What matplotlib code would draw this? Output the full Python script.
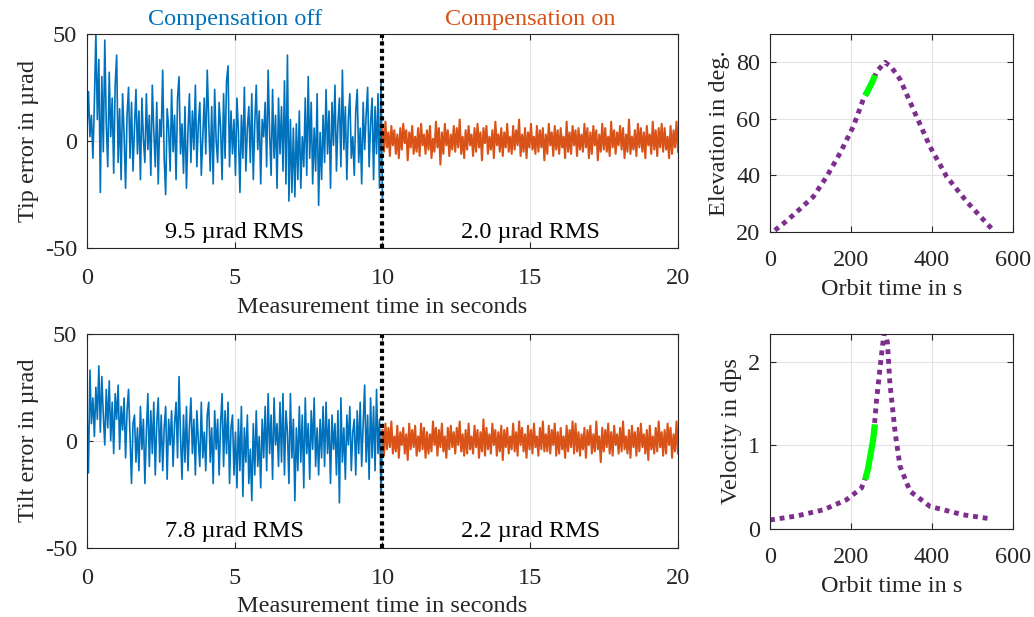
import numpy as np
import matplotlib
matplotlib.use('Agg')
import matplotlib.pyplot as plt

plt.rcParams['font.family'] = ['Liberation Serif', 'DejaVu Serif']
plt.rcParams['font.size'] = 17.5
plt.rcParams['axes.unicode_minus'] = False

tip_off = [5, 23, 2, 12, -8, 18, 50, 10, 38, -24,
           30, -5, 47, 8, -12, 32, 2, 20, -15, 26,
           40, -10, 15, -18, 22, 3, -22, 12, 25, -8,
           18, -14, 6, 24, -6, 14, -18, 20, 1, -10,
           22, -4, 12, -16, 26, 5, -12, 18, -20, 10,
           2, 33, -8, -25, 15, 6, -14, 24, -5, 12,
           -18, 20, 30, -6, 8, -15, 16, -22, 4, 22,
           -10, 14, -4, 26, -12, 8, 18, -16, 2, 20,
           -6, 33, 10, -14, 16, -20, 24, 0, -10, 18,
           6, -18, 22, -8, 28, 35, -12, 14, -6, 10,
           -16, 20, 4, -24, 12, -8, 25, -14, 6, 16,
           -10, 22, -18, 8, 26, -4, 14, -20, 10, 2,
           18, -12, 33, 4, -16, 24, -8, 12, -22, 20,
           -6, 16, -14, 28, -20, 40, -28, 10, -24, 6,
           -26, 8, -18, 14, -22, 2, -12, 20, -16, 30,
           -8, 18, -20, 6, -14, 22, -30, 4, -18, 12,
           -10, 24, -6, 14, -22, 18, -2, 26, -14, 8,
           20, -12, 33, -4, 16, -18, 10, 22, -8, 2,
           -16, 14, 24, -10, 6, -20, 18, -4, 12, 25,
           -12, 8, 20, -18, 16, -6, 22, -22, 28, -28]
tip_on = [6, -5, 9, -3, 4, -7, 7, -2, 5, -6,
          3, -8, 6, -4, 8, -1, 5, -9, 4, -3,
          7, -6, 2, -5, 6, -7, 8, -2, 3, -6,
          5, -4, 7, -8, 1, -5, 9, -3, 6, -11,
          4, -6, 8, -2, 5, -7, 3, -4, 7, -5,
          6, -3, 10, -6, 2, -8, 5, -4, 7, -2,
          3, -7, 6, -5, 8, -3, 4, -9, 6, -1,
          7, -6, 2, -4, 5, -8, 9, -2, 3, -5,
          6, -7, 4, -3, 8, -5, 2, -6, 7, -4,
          5, -2, 10, -7, 3, -5, 6, -8, 4, -3,
          8, -4, 2, -6, 7, -5, 5, -3, 6, -9,
          3, -6, 8, -2, 4, -7, 7, -4, 5, -6,
          6, -3, 2, -8, 9, -5, 4, -6, 7, -2,
          5, -7, 6, -4, 3, -5, 8, -3, 6, -8,
          4, -6, 7, -2, 5, -9, 3, -5, 8, -4,
          6, -5, 2, -7, 9, -3, 5, -6, 4, -2,
          7, -4, 6, -8, 3, -5, 10, -6, 2, -4,
          5, -7, 8, -3, 6, -5, 4, -8, 7, -2,
          3, -6, 9, -4, 5, -7, 6, -3, 8, -5,
          6, -4, 2, -8, 7, -6, 5, -3, 9, -5]
tilt_off = [15, -15, 33, 8, 20, 2, 25, 10, 35, 4,
            30, 12, -2, 24, 6, 28, 0, 18, -6, 22,
            10, 26, -4, 16, 5, 20, -8, 14, 24, 2,
            -20, 8, 12, -10, 6, -14, 16, -4, 10, -20,
            4, 22, -12, 14, -6, 18, -16, 8, 20, -10,
            12, -14, 6, 16, -18, 10, -2, 14, -12, 8,
            18, -8, 30, 2, -18, 12, -10, 16, -14, 6,
            20, -6, 10, -16, 14, 0, -12, 18, -8, 4,
            -14, 12, 18, -10, 6, -20, 14, -4, 10, -16,
            8, 22, -12, 14, -6, 18, -20, 6, 12, -16,
            4, -22, 10, -14, 16, -26, 6, -10, 12, -20,
            -4, -28, 8, -16, 14, -12, 2, -22, 10, -8,
            16, -14, 22, -6, 12, -18, 20, -2, 8, -12,
            18, -10, 22, -16, 14, 4, -20, 22, -8, 10,
            -28, 6, -14, 16, -10, 12, -22, 20, -6, 8,
            -18, 14, -4, 20, -12, 6, -16, 10, -8, 16,
            -12, 18, -6, 10, -20, 12, -4, 8, -16, 14,
            -29, 20, -10, 6, -18, 12, -2, 16, -14, 4,
            10, -16, 14, -6, 18, -12, 8, 26, -10, 12,
            -18, 20, -8, 16, -14, 24, -6, 10, -25, 4]
tilt_on = [5, -7, 8, -4, 6, -3, 9, -6, 2, -5,
           7, -8, 4, -2, 6, -6, 3, -9, 8, -4,
           5, -3, 7, -7, 2, -5, 8, -4, 6, -8,
           4, -6, 3, -5, 9, -2, 6, -7, 5, -3,
           8, -5, 2, -8, 6, -4, 7, -3, 4, -6,
           6, -2, 9, -5, 3, -7, 5, -6, 8, -4,
           2, -6, 7, -3, 5, -8, 4, -5, 10, -7,
           6, -4, 3, -6, 8, -2, 5, -7, 4, -5,
           7, -9, 5, -3, 6, -6, 2, -4, 8, -5,
           4, -7, 9, -2, 6, -5, 3, -8, 7, -4,
           5, -6, 8, -3, 2, -7, 6, -4, 9, -5,
           3, -5, 7, -6, 5, -2, 8, -7, 4, -6,
           6, -4, 2, -8, 7, -5, 5, -3, 9, -6,
           8, -5, 4, -7, 3, -4, 6, -8, 5, -2,
           7, -6, 3, -5, 9, -4, 2, -10, 6, -5,
           5, -3, 8, -6, 4, -7, 7, -2, 3, -6,
           6, -5, 9, -4, 2, -6, 5, -8, 7, -3,
           4, -7, 6, -5, 8, -3, 3, -6, 5, -9,
           7, -4, 2, -6, 6, -5, 9, -3, 4, -7,
           5, -6, 8, -2, 6, -8, 3, -5, 9, -6]

# orbit pass
orbit_t = [12, 40, 66, 107, 140, 173, 206, 230, 250, 265, 284, 300, 321, 354, 395, 436, 486, 520, 551]
elevation = [20.6, 23.8, 27.1, 32.5, 39.6, 47.9, 57.4, 66.8, 72.6, 77, 80, 78.2, 74, 63.3, 50.2, 39.6, 30.7, 25.4, 20.6]
vel_t = [0, 66, 132, 189, 226, 240, 255, 263, 272, 278, 284, 290, 296, 309, 321, 346, 395, 477, 547]
velocity = [0.108, 0.156, 0.23, 0.35, 0.49, 0.68, 1.08, 1.54, 1.94, 2.2, 2.4, 2.22, 1.74, 1.15, 0.75, 0.45, 0.27, 0.17, 0.12]
meas_t = [235, 242, 249, 255, 259]
meas_elev = [68.2, 70.1, 72.0, 73.8, 75.4]
meas_vel = [0.59, 0.72, 0.91, 1.08, 1.25]

rms_off = ['9.5 µrad RMS', '7.8 µrad RMS']
rms_on = ['2.0 µrad RMS', '2.2 µrad RMS']
ylabels_left = ['Tip error in µrad', 'Tilt error in µrad']

BLUE = '#0072BD'
ORANGE = '#D95319'
PURPLE = '#7E2F8E'
DARK = '#262626'


def style_axes(ax, xpad):
    ax.grid(True, color='#e3e3e3', linewidth=0.8)
    ax.set_axisbelow(True)
    ax.tick_params(direction='in', top=True, right=True, length=4, colors=DARK, labelcolor=DARK)
    ax.tick_params(axis='x', pad=xpad)
    ax.tick_params(axis='y', pad=7)
    for s in ax.spines.values():
        s.set_color(DARK)
        s.set_linewidth(0.8)


fig = plt.figure(figsize=(10.34, 6.17), dpi=100)
ax_tip = fig.add_axes([0.0841, 0.5976, 0.5716, 0.3478])
ax_tilt = fig.add_axes([0.0841, 0.1123, 0.5716, 0.3468])
ax_el = fig.add_axes([0.7447, 0.624, 0.235, 0.3209])
ax_vel = fig.add_axes([0.7447, 0.1426, 0.235, 0.316])

for i, (ax, off, on) in enumerate([(ax_tip, tip_off, tip_on), (ax_tilt, tilt_off, tilt_on)]):
    t_off = np.linspace(0, 10, len(off))
    t_on = np.linspace(10, 20, len(on))
    ax.plot(t_off, off, color=BLUE, linewidth=1.2)
    ax.plot(t_on, on, color=ORANGE, linewidth=1.5)
    ax.axvline(10, color='black', linewidth=3, linestyle=(0, (1, 0.8)))
    ax.set_xlim(0, 20)
    ax.set_ylim(-50, 50)
    ax.set_xticks([0, 5, 10, 15, 20])
    ax.set_yticks([-50, 0, 50])
    ax.set_xlabel('Measurement time in seconds', color=DARK, labelpad=5.5)
    ax.set_ylabel(ylabels_left[i], color=DARK)
    ax.text(5, -42.5, rms_off[i], ha='center', va='center', color='black')
    ax.text(15, -42.5, rms_on[i], ha='center', va='center', color='black')
    style_axes(ax, 14.4)

ax_tip.text(5, 51.5, 'Compensation off', ha='center', va='bottom', color=BLUE)
ax_tip.text(15, 51.5, 'Compensation on', ha='center', va='bottom', color=ORANGE)

ax_el.plot(orbit_t, elevation, color=PURPLE, linewidth=3.5, linestyle=(0, (1, 1)))
ax_el.plot(meas_t, meas_elev, color='#00FF00', linewidth=4.5, solid_capstyle='butt')
ax_el.set_xlim(0, 600)
ax_el.set_ylim(20, 90)
ax_el.set_xticks([0, 200, 400, 600])
ax_el.set_yticks([20, 40, 60, 80])
ax_el.set_xlabel('Orbit time in s', color=DARK, labelpad=6)
ax_el.set_ylabel('Elevation in deg.', color=DARK)
style_axes(ax_el, 13)

ax_vel.plot(vel_t, velocity, color=PURPLE, linewidth=3.5, linestyle=(0, (1, 1)))
ax_vel.plot(meas_t, meas_vel, color='#00FF00', linewidth=4.5, solid_capstyle='butt')
ax_vel.set_xlim(0, 600)
ax_vel.set_ylim(0, 2.33)
ax_vel.set_xticks([0, 200, 400, 600])
ax_vel.set_yticks([0, 1, 2])
ax_vel.set_xlabel('Orbit time in s', color=DARK, labelpad=6)
ax_vel.set_ylabel('Velocity in dps', color=DARK)
style_axes(ax_vel, 13)

fig.savefig('out.png', dpi=100)
plt.close(fig)
